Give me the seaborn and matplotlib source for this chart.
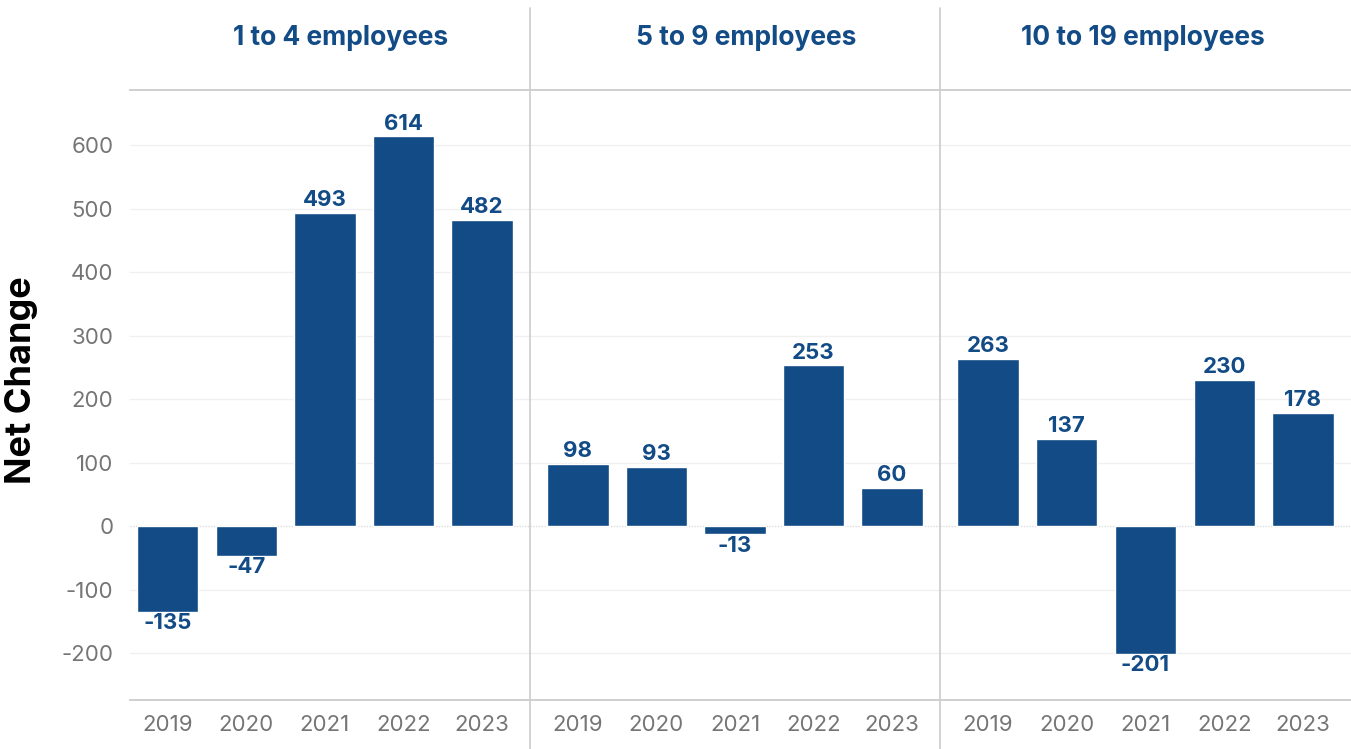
import pandas as pd
import matplotlib.pyplot as plt
import matplotlib.lines as mlines
import seaborn as sns

# data
groups = ['1 to 4 employees', '5 to 9 employees', '10 to 19 employees']
years = ['2019', '2020', '2021', '2022', '2023']
small_1_4 = [-135, -47, 493, 614, 482]
small_5_9 = [98, 93, -13, 253, 60]
small_10_19 = [263, 137, -201, 230, 178]

df = pd.DataFrame({
    'group': [g for g in groups for _ in years],
    'year': years * 3,
    'value': small_1_4 + small_5_9 + small_10_19,
})

sns.set_theme(style='white')
plt.rcParams['font.family'] = ['Inter', 'DejaVu Sans']
plt.rcParams['axes.unicode_minus'] = False

BLUE = '#124b85'
GRAY_TXT = '#757575'
LINE = '#cccccc'

W, H = 1351, 749
fig = plt.figure(figsize=(W / 100, H / 100), dpi=100)

# panel extents in pixels (left, right) and x-limits in category units
panels = [(130, 530, (-0.48, 4.61)), (530, 940, (-0.61, 4.61)), (940, 1351, (-0.61, 4.61))]
title_x = [341, 746, 1143]
y_top, y_bot = 90, 700

for i, (g, (x0, x1, xl)) in enumerate(zip(groups, panels)):
    ax = fig.add_axes([x0 / W, (H - y_bot) / H, (x1 - x0) / W, (y_bot - y_top) / H])
    sub = df[df['group'] == g]
    sns.barplot(data=sub, x='year', y='value', ax=ax, color=BLUE, saturation=1, width=0.78)
    ax.set_xlim(*xl)
    ax.set_ylim(-274, 687)
    ax.set_yticks(range(-200, 700, 100))
    for yv in range(-200, 700, 100):
        if yv == 0:
            ax.axhline(0, color='#dddddd', lw=1, ls=(0, (1, 1)), zorder=0)
        else:
            ax.axhline(yv, color='#f0f0f0', lw=1, zorder=0)
    ax.grid(False)
    for s in ['left', 'right']:
        ax.spines[s].set_visible(False)
    for s in ['top', 'bottom']:
        ax.spines[s].set_color(LINE)
        ax.spines[s].set_linewidth(1.3)
    ax.set_xlabel('')
    ax.set_ylabel('')
    ax.tick_params(axis='x', length=0, pad=11, labelsize=16, labelcolor=GRAY_TXT)
    ax.set_xticks([0.5 + k for k in range(4)], minor=True)
    ax.tick_params(axis='x', which='minor', length=4, color='#eeeeee', direction='out')
    if i == 0:
        ax.tick_params(axis='y', length=0, pad=12, labelsize=16, labelcolor=GRAY_TXT)
    else:
        ax.tick_params(axis='y', length=0, labelleft=False)

    for bar, v in zip(ax.patches, sub['value']):
        cx = bar.get_x() + bar.get_width() / 2
        if v >= 0:
            ax.annotate(str(v), (cx, v), xytext=(0, 2), textcoords='offset points',
                        ha='center', va='bottom', fontsize=16, fontweight='bold', color=BLUE)
        else:
            ax.annotate(str(v), (cx, v), xytext=(0, -1), textcoords='offset points',
                        ha='center', va='top', fontsize=16, fontweight='bold', color=BLUE)

    fig.text(title_x[i] / W, 1 - 38 / H, g, ha='center', va='center',
             fontsize=19, fontweight='bold', color=BLUE)

# vertical dividers between panels, running above the plot area
for xp in [530, 940]:
    fig.add_artist(mlines.Line2D([xp / W, xp / W], [0, 1 - 8 / H], color=LINE, lw=1.2))

fig.text(22 / W, 1 - 380 / H, 'Net Change', rotation=90, ha='center', va='center',
         fontsize=26, fontweight='bold', color='black')

fig.savefig('out.png', dpi=100)
